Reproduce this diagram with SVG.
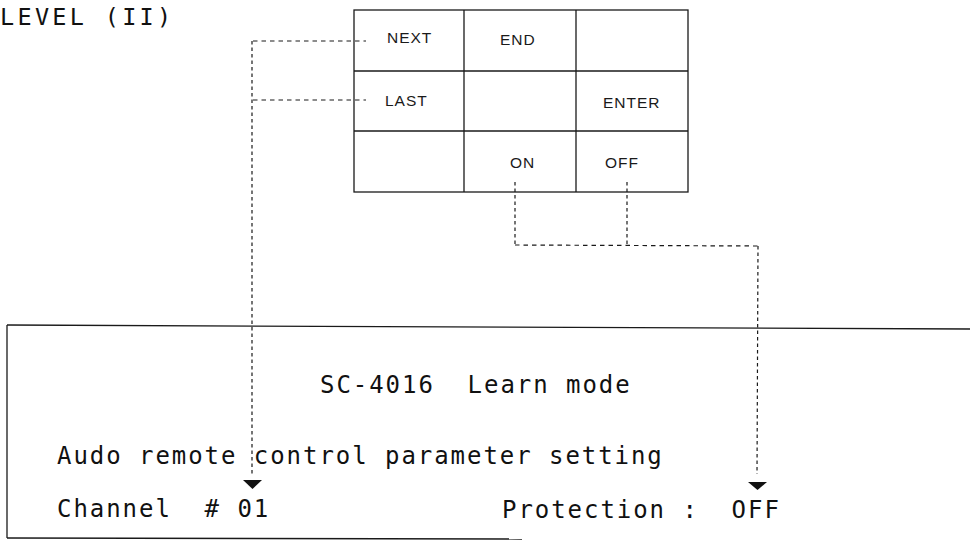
<svg xmlns="http://www.w3.org/2000/svg" width="970" height="542" viewBox="0 0 970 542">
  <style>
    .grid { fill: none; stroke: #1a1a1a; stroke-width: 1.3; }
    .key { font-family: "Liberation Sans", Arial, sans-serif; font-size: 15.5px; letter-spacing: 1px; fill: #1a1a1a; }
    .mono { font-family: "DejaVu Sans Mono", "Liberation Mono", monospace; font-size: 24px; letter-spacing: 1.95px; fill: #111; }
    .title { font-family: "DejaVu Sans Mono", "Liberation Mono", monospace; font-size: 23.5px; letter-spacing: 3.3px; fill: #111; }
    .dh { fill: none; stroke: #1a1a1a; stroke-width: 1.2; stroke-dasharray: 4.5 4; }
    .dv { fill: none; stroke: #1a1a1a; stroke-width: 1.2; stroke-dasharray: 3.5 3; }
    .frame { fill: none; stroke: #1a1a1a; stroke-width: 1.3; }
    .head { fill: #111; }
  </style>

  <text id="level-title" class="title" x="0" y="25" xml:space="preserve">LEVEL (II)</text>

  <!-- 3x3 key panel -->
  <g id="keypad">
    <rect class="grid" x="354" y="10" width="334" height="182"/>
    <line class="grid" x1="464" y1="10" x2="464" y2="192"/>
    <line class="grid" x1="576" y1="10" x2="576" y2="192"/>
    <line class="grid" x1="354" y1="71" x2="688" y2="71"/>
    <line class="grid" x1="354" y1="131" x2="688" y2="131"/>
  </g>
  <g id="key-next"><text class="key" x="387" y="43">NEXT</text></g>
  <g id="key-end"><text class="key" x="500" y="45">END</text></g>
  <g id="key-last"><text class="key" x="385" y="106">LAST</text></g>
  <g id="key-enter"><text class="key" x="603" y="108">ENTER</text></g>
  <g id="key-on"><text class="key" x="510" y="168">ON</text></g>
  <g id="key-off"><text class="key" x="605" y="168">OFF</text></g>

  <!-- LCD screen -->
  <g id="screen">
    <line class="frame" x1="7" y1="325" x2="970" y2="329"/>
    <line class="frame" x1="7" y1="325" x2="7" y2="538"/>
    <line class="frame" x1="7" y1="538" x2="522" y2="539"/>
    <text class="mono" x="320" y="393" xml:space="preserve">SC-4016  Learn mode</text>
    <text class="mono" x="57" y="464">Audo remote control parameter setting</text>
  </g>
  <g id="channel-field">
    <text class="mono" x="57" y="517" xml:space="preserve">Channel  # 01</text>
  </g>
  <g id="protection-field">
    <text class="mono" x="502" y="518" xml:space="preserve">Protection :  OFF</text>
  </g>

  <!-- dashed connectors -->
  <g id="connectors">
    <line class="dh" x1="253" y1="41" x2="366" y2="41"/>
    <line class="dh" x1="253" y1="100" x2="366" y2="100"/>
    <line class="dv" x1="252" y1="41" x2="252" y2="474"/>
    <polygon class="head" points="243,480 262,480 252.5,489"/>

    <line class="dv" x1="515" y1="182" x2="515" y2="245"/>
    <line class="dv" x1="627" y1="182" x2="627" y2="245"/>
    <line class="dh" x1="515" y1="245" x2="758" y2="246"/>
    <line class="dv" x1="758" y1="246" x2="757" y2="474"/>
    <polygon class="head" points="748,482 767,482 757.5,490"/>
  </g>
</svg>
